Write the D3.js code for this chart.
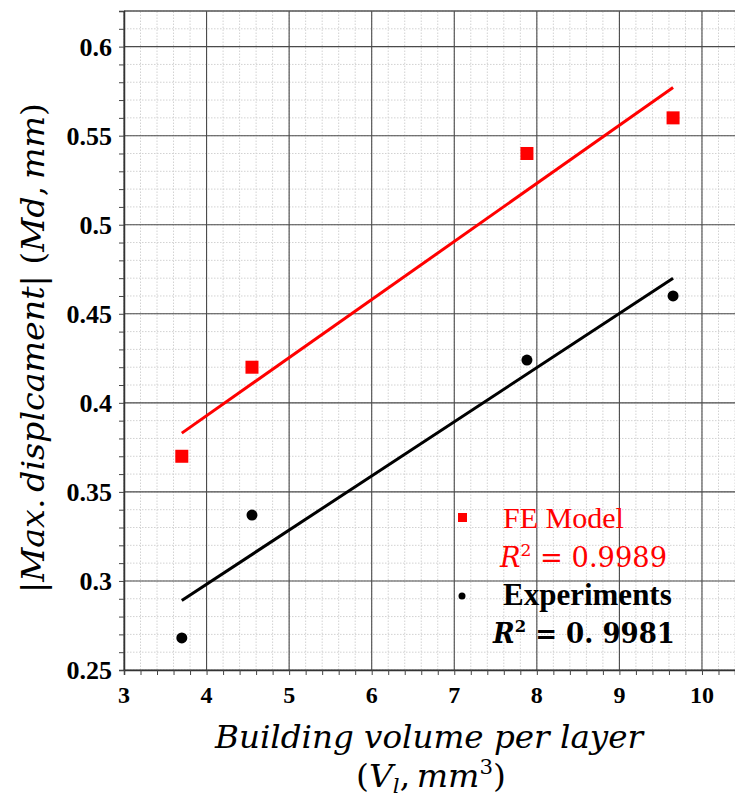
<!DOCTYPE html>
<html>
<head>
<meta charset="utf-8">
<script src="https://cdn.jsdelivr.net/npm/d3@7"></script>
<style>
  body { margin: 0; background: #fff; }
  svg { display: block; }
</style>
</head>
<body>
<div id="chart"></div>
<script>
// volumes per layer (x) and max displacement (y)
const volumes = [3.7, 4.55, 7.88, 9.65];
const feModel = [0.37, 0.42, 0.54, 0.56];
const experiments = [0.268, 0.337, 0.424, 0.46];

// fitted lines at both ends
const fitX = [3.7, 9.65];
const feFit = [0.383, 0.577];
const expFit = [0.289, 0.470];

const xTicks = [3, 4, 5, 6, 7, 8, 9, 10];
const yTicks = [0.25, 0.3, 0.35, 0.4, 0.45, 0.5, 0.55, 0.6];
const yTickLabels = ['0.25', '0.3', '0.35', '0.4', '0.45', '0.5', '0.55', '0.6'];

const width = 735;
const height = 798;
const margin = { top: 11, right: 0, bottom: 128, left: 124 };

const svg = d3.select('#chart')
  .append('svg')
  .attr('width', width)
  .attr('height', height);

const x = d3.scaleLinear()
  .domain([3, 10.4])
  .range([margin.left, width - margin.right]);

const y = d3.scaleLinear()
  .domain([0.25, 0.62])
  .range([height - margin.bottom, margin.top]);

const x0 = x.range()[0], x1 = x.range()[1];
const y0 = y.range()[0], y1 = y.range()[1];

const serif = "'Liberation Serif', 'Times New Roman', serif";
const math = "'DejaVu Serif', serif";

// minor grid (dotted)
const xMinor = d3.range(3, 10.41, 0.2);
const yMinor = d3.range(0.25, 0.6201, 0.01);

svg.append('g')
  .selectAll('line')
  .data(xMinor)
  .join('line')
    .attr('x1', d => x(d)).attr('x2', d => x(d))
    .attr('y1', y0).attr('y2', y1)
    .attr('stroke', '#d2d2d2')
    .attr('stroke-dasharray', '1.5,1.5');

svg.append('g')
  .selectAll('line')
  .data(yMinor)
  .join('line')
    .attr('y1', d => y(d)).attr('y2', d => y(d))
    .attr('x1', x0).attr('x2', x1)
    .attr('stroke', '#d2d2d2')
    .attr('stroke-dasharray', '1.5,1.5');

// major grid
svg.append('g')
  .selectAll('line')
  .data(xTicks)
  .join('line')
    .attr('x1', d => x(d)).attr('x2', d => x(d))
    .attr('y1', y0).attr('y2', y1)
    .attr('stroke', '#4a4a4a')
    .attr('stroke-width', 1.1);

svg.append('g')
  .selectAll('line')
  .data(yTicks)
  .join('line')
    .attr('y1', d => y(d)).attr('y2', d => y(d))
    .attr('x1', x0).attr('x2', x1)
    .attr('stroke', '#4a4a4a')
    .attr('stroke-width', 1.1);

// top border
svg.append('line')
  .attr('x1', x0).attr('x2', x1)
  .attr('y1', y1).attr('y2', y1)
  .attr('stroke', '#555')
  .attr('stroke-width', 1.5);

// axes
function yAxis(g) {
  g.attr('transform', `translate(${x0},0)`)
    .call(d3.axisLeft(y).tickValues(yMinor).tickSize(5).tickFormat(''))
    .call(g => g.select('.domain').attr('stroke', '#333').attr('stroke-width', 1.5))
    .call(g => g.selectAll('.tick line').attr('stroke', '#444'));
}

function xAxis(g) {
  g.attr('transform', `translate(0,${y0})`)
    .call(d3.axisBottom(x).tickValues(xMinor).tickSize(5).tickFormat(''))
    .call(g => g.select('.domain').attr('stroke', '#333').attr('stroke-width', 1.5))
    .call(g => g.selectAll('.tick line').attr('stroke', '#444'));
}

svg.append('g').call(yAxis);
svg.append('g').call(xAxis);

// tick labels
svg.append('g')
  .selectAll('text')
  .data(yTicks)
  .join('text')
    .attr('x', 112)
    .attr('y', d => y(d) + 9)
    .attr('text-anchor', 'end')
    .style('font-family', serif)
    .style('font-weight', 'bold')
    .style('font-size', '26px')
    .text((d, i) => yTickLabels[i]);

svg.append('g')
  .selectAll('text')
  .data(xTicks)
  .join('text')
    .attr('x', d => x(d))
    .attr('y', 703)
    .attr('text-anchor', 'middle')
    .style('font-family', serif)
    .style('font-weight', 'bold')
    .style('font-size', '24px')
    .text(d => d);

// fit lines
const line = d3.line()
  .x(d => x(d[0]))
  .y(d => y(d[1]));

svg.append('path')
  .datum(fitX.map((v, i) => [v, feFit[i]]))
  .attr('d', line)
  .attr('fill', 'none')
  .attr('stroke', '#ff0000')
  .attr('stroke-width', 3);

svg.append('path')
  .datum(fitX.map((v, i) => [v, expFit[i]]))
  .attr('d', line)
  .attr('fill', 'none')
  .attr('stroke', '#000')
  .attr('stroke-width', 3);

// points
svg.append('g')
  .selectAll('rect')
  .data(volumes)
  .join('rect')
    .attr('x', d => x(d) - 6.5)
    .attr('y', (d, i) => y(feModel[i]) - 6.5)
    .attr('width', 13)
    .attr('height', 13)
    .attr('fill', '#ff0000');

svg.append('g')
  .selectAll('circle')
  .data(volumes)
  .join('circle')
    .attr('cx', d => x(d))
    .attr('cy', (d, i) => y(experiments[i]))
    .attr('r', 5.5)
    .attr('fill', '#000');

// legend
svg.append('rect')
  .attr('x', 458).attr('y', 513)
  .attr('width', 9).attr('height', 9)
  .attr('fill', '#ff0000');

svg.append('text')
  .attr('x', 503).attr('y', 528)
  .style('font-family', serif)
  .style('font-size', '30px')
  .attr('fill', '#ff0000')
  .text('FE Model');

const r1 = svg.append('text')
  .attr('x', 500).attr('y', 567)
  .style('font-family', math)
  .style('font-size', '27px')
  .attr('fill', '#ff0000')
  .attr('textLength', 167)
  .attr('lengthAdjust', 'spacingAndGlyphs');
r1.append('tspan').attr('font-style', 'italic').text('R');
r1.append('tspan').style('font-size', '17px').attr('dy', -11).text('2');
r1.append('tspan').attr('dy', 11).text(' = 0.9989');

svg.append('circle')
  .attr('cx', 462).attr('cy', 596)
  .attr('r', 3.5)
  .attr('fill', '#000');

svg.append('text')
  .attr('x', 503).attr('y', 605)
  .style('font-family', serif)
  .style('font-weight', 'bold')
  .style('font-size', '31px')
  .text('Experiments');

const r2 = svg.append('text')
  .attr('x', 493).attr('y', 643)
  .style('font-family', math)
  .style('font-weight', 'bold')
  .style('font-size', '27px')
  .attr('textLength', 182)
  .attr('lengthAdjust', 'spacingAndGlyphs');
r2.append('tspan').attr('font-style', 'italic').text('R');
r2.append('tspan').style('font-size', '17px').attr('dy', -11).text('2');
r2.append('tspan').attr('dy', 11).text(' = 0. 9981');

// x axis title
svg.append('text')
  .attr('x', 429).attr('y', 748)
  .attr('text-anchor', 'middle')
  .style('font-family', math)
  .style('font-style', 'italic')
  .style('font-size', '32px')
  .attr('textLength', 428)
  .attr('lengthAdjust', 'spacingAndGlyphs')
  .text('Building volume per layer');

const xt2 = svg.append('text')
  .attr('x', 431).attr('y', 787)
  .attr('text-anchor', 'middle')
  .style('font-family', math)
  .style('font-size', '31px')
  .attr('textLength', 150)
  .attr('lengthAdjust', 'spacingAndGlyphs');
xt2.append('tspan').text('(');
xt2.append('tspan').attr('font-style', 'italic').text('V');
xt2.append('tspan').attr('font-style', 'italic').style('font-size', '20px').attr('dy', 6).text('l');
xt2.append('tspan').attr('dy', -6).text(',\u2009');
xt2.append('tspan').attr('font-style', 'italic').text('mm');
xt2.append('tspan').style('font-size', '20px').attr('dy', -13).text('3');
xt2.append('tspan').attr('dy', 13).text(')');

// y axis title
const yt = svg.append('text')
  .attr('transform', 'translate(44,348) rotate(-90)')
  .attr('text-anchor', 'middle')
  .style('font-family', math)
  .style('font-size', '31px')
  .attr('textLength', 490)
  .attr('lengthAdjust', 'spacingAndGlyphs');
yt.append('tspan').text('|');
yt.append('tspan').attr('font-style', 'italic').text('Max');
yt.append('tspan').text('.\u2009');
yt.append('tspan').attr('font-style', 'italic').text('displcament');
yt.append('tspan').text('| (');
yt.append('tspan').attr('font-style', 'italic').text('Md');
yt.append('tspan').text(',\u2009');
yt.append('tspan').attr('font-style', 'italic').text('mm');
yt.append('tspan').text(')');
</script>
</body>
</html>
